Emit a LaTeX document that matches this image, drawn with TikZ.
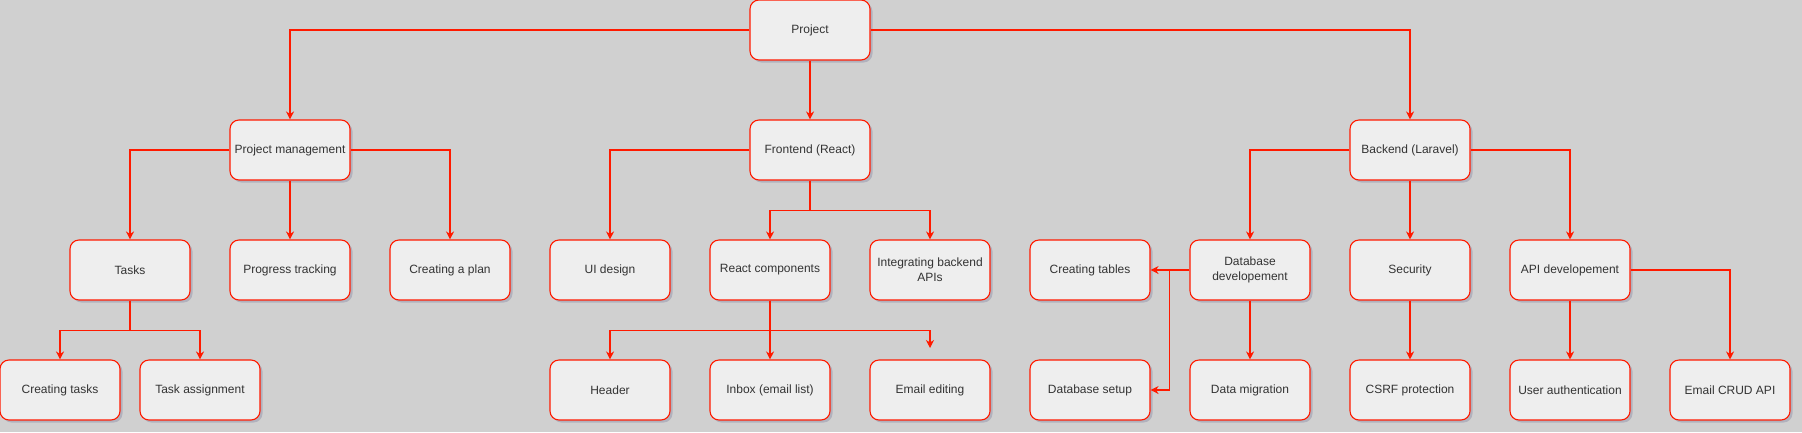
\documentclass[tikz,border=0pt]{standalone}
\usepackage{fontspec}
\setmainfont{Liberation Sans}
\usetikzlibrary{arrows.meta,shadows}
\definecolor{bg}{HTML}{D0D0D0}
\definecolor{boxfill}{HTML}{EEEEEE}
\definecolor{txt}{HTML}{333333}
\definecolor{ln}{HTML}{FF1A00}
\definecolor{shd}{HTML}{8C8CA6}
\begin{document}
\begin{tikzpicture}[x=1pt,y=-1pt,
  box/.style={draw=ln, line width=1.1pt, fill=boxfill, rounded corners=9pt,
    minimum width=120pt, minimum height=60pt, inner sep=0pt,
    align=center, text=txt, font=\fontsize{12}{15}\selectfont,
    drop shadow={shadow xshift=2.5pt, shadow yshift=-2.5pt, fill=shd, opacity=0.45}},
  edge/.style={draw=ln, line width=1.1pt, -{Stealth[length=8pt,width=8pt,inset=2.5pt]}}]
\fill[bg] (0,0) rectangle (1802,432);
\useasboundingbox (0,0) rectangle (1802,432);
% row 1
\node[box] (proj) at (810,30) {Project};
% row 2
\node[box] (pm) at (290,150) {Project management};
\node[box] (fe) at (810,150) {Frontend (React)};
\node[box] (be) at (1410,150) {Backend (Laravel)};
% row 3
\node[box] (tasks) at (130,270) {Tasks};
\node[box] (prog) at (290,270) {Progress tracking};
\node[box] (plan) at (450,270) {Creating a plan};
\node[box] (ui) at (610,270) {UI design};
\node[box] (rc) at (770,270) {React components};
\node[box] (iba) at (930,270) {Integrating backend\\APIs};
\node[box] (ctab) at (1090,270) {Creating tables};
\node[box] (dbd) at (1250,270) {Database\\developement};
\node[box] (sec) at (1410,270) {Security};
\node[box] (api) at (1570,270) {API developement};
% row 4
\node[box] (ct) at (60,390) {Creating tasks};
\node[box] (ta) at (200,390) {Task assignment};
\node[box] (hdr) at (610,390) {Header};
\node[box] (inbox) at (770,390) {Inbox (email list)};
\node[box] (ee) at (930,390) {Email editing};
\node[box] (dbs) at (1090,390) {Database setup};
\node[box] (dm) at (1250,390) {Data migration};
\node[box] (csrf) at (1410,390) {CSRF protection};
\node[box] (ua) at (1570,390) {User authentication};
\node[box] (crud) at (1730,390) {Email CRUD API};
\coordinate (eefree) at (930,348);
% edges
\draw[edge] (proj.west) -| (pm.north);
\draw[edge] (proj.south) -- (fe.north);
\draw[edge] (proj.east) -| (be.north);
\draw[edge] (pm.west) -| (tasks.north);
\draw[edge] (pm.south) -- (prog.north);
\draw[edge] (pm.east) -| (plan.north);
\draw[edge] (fe.west) -| (ui.north);
\draw[edge] (fe.south) -- ++(0,30) -| (rc.north);
\draw[edge] (fe.south) -- ++(0,30) -| (iba.north);
\draw[edge] (be.west) -| (dbd.north);
\draw[edge] (be.south) -- (sec.north);
\draw[edge] (be.east) -| (api.north);
\draw[edge] (tasks.south) -- ++(0,30) -| (ct.north);
\draw[edge] (tasks.south) -- ++(0,30) -| (ta.north);
\draw[edge] (rc.south) -- ++(0,30) -| (hdr.north);
\draw[edge] (rc.south) -- (inbox.north);
\draw[edge] (rc.south) -- ++(0,30) -| (eefree);
\draw[edge] (dbd.west) -- (ctab.east);
\draw[edge] (dbd.west) -- ++(-20,0) |- (dbs.east);
\draw[edge] (dbd.south) -- (dm.north);
\draw[edge] (sec.south) -- (csrf.north);
\draw[edge] (api.south) -- (ua.north);
\draw[edge] (api.east) -| (crud.north);
\end{tikzpicture}
\end{document}
